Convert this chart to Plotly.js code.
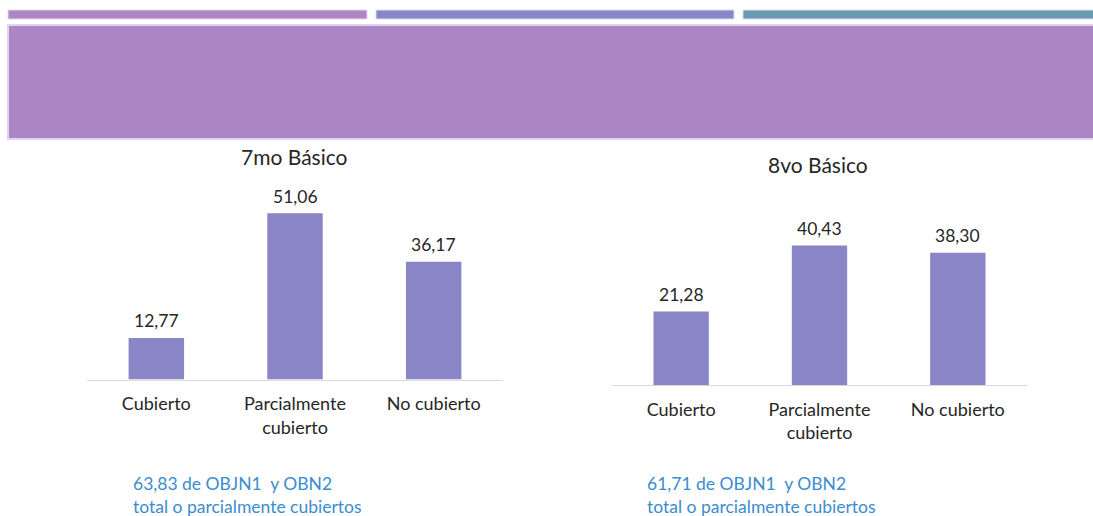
<!DOCTYPE html>
<html>
<head>
<meta charset="utf-8">
<script src="https://cdn.plot.ly/plotly-3.0.1.min.js"></script>
<style>html,body{margin:0;padding:0;background:#fff;}#chart{width:1093px;height:516px;}</style>
</head>
<body>
<div id="chart"></div>
<script>
const categories = ['Cubierto', 'Parcialmente<br>cubierto', 'No cubierto'];
const values7mo = [12.77, 51.06, 36.17];
const values8vo = [21.28, 40.43, 38.30];
const chartTitles = ['7mo Básico', '8vo Básico'];
const notes = [
  '63,83 de OBJN1  y OBN2<br>total o parcialmente cubiertos',
  '61,71 de OBJN1  y OBN2<br>total o parcialmente cubiertos'
];

const W = 1093, H = 516;
const px = x => x / W;
const py = y => 1 - y / H;
const FONT = 'Lato, "Open Sans", sans-serif';
const barColor = '#8985c6';
const textColor = '#262626';

const traces = [
  {type: 'bar', x: categories, y: values7mo, xaxis: 'x', yaxis: 'y', width: 0.4,
   marker: {color: barColor}, hoverinfo: 'skip', showlegend: false},
  {type: 'bar', x: categories, y: values8vo, xaxis: 'x2', yaxis: 'y2', width: 0.4,
   marker: {color: barColor}, hoverinfo: 'skip', showlegend: false}
];

const fmt = v => v.toFixed(2).replace('.', ',');
const annotations = [];
[[values7mo, 'x', 'y'], [values8vo, 'x2', 'y2']].forEach(([vals, xr, yr]) => {
  vals.forEach((v, i) => annotations.push({
    x: categories[i], y: v, xref: xr, yref: yr, text: fmt(v), showarrow: false,
    yanchor: 'middle', yshift: 17, font: {family: FONT, size: 17.5, color: textColor}
  }));
});
annotations.push({x: px(294), y: py(156), xref: 'paper', yref: 'paper', text: chartTitles[0],
  showarrow: false, xanchor: 'center', yanchor: 'middle', font: {family: FONT, size: 21, color: textColor}});
annotations.push({x: px(818), y: py(164), xref: 'paper', yref: 'paper', text: chartTitles[1],
  showarrow: false, xanchor: 'center', yanchor: 'middle', font: {family: FONT, size: 21, color: textColor}});
annotations.push({x: px(131), y: py(495), xref: 'paper', yref: 'paper', text: notes[0], align: 'left',
  showarrow: false, xanchor: 'left', yanchor: 'middle', font: {family: FONT, size: 17.5, color: '#3a8dcf'}});
annotations.push({x: px(645), y: py(495), xref: 'paper', yref: 'paper', text: notes[1], align: 'left',
  showarrow: false, xanchor: 'left', yanchor: 'middle', font: {family: FONT, size: 17.5, color: '#3a8dcf'}});

const xaxisBase = {showline: true, linecolor: '#d9d9d9', linewidth: 1, ticks: '', showgrid: false,
  zeroline: false, fixedrange: true, ticklabelstandoff: 8,
  tickfont: {family: FONT, size: 18, color: textColor}};
const yaxisBase = {visible: false, showgrid: false, zeroline: false, fixedrange: true};

const shapes = [
  {type: 'rect', xref: 'paper', yref: 'paper', x0: px(8), x1: px(367), y0: py(19), y1: py(10),
   fillcolor: '#ae86c4', line: {color: '#e3d6ec', width: 1}},
  {type: 'rect', xref: 'paper', yref: 'paper', x0: px(376), x1: px(734), y0: py(19), y1: py(10),
   fillcolor: '#8786c8', line: {color: '#dcdcf0', width: 1}},
  {type: 'rect', xref: 'paper', yref: 'paper', x0: px(743), x1: px(1094), y0: py(19), y1: py(10),
   fillcolor: '#6899b0', line: {color: '#d6e4ea', width: 1}},
  {type: 'rect', xref: 'paper', yref: 'paper', x0: px(8), x1: px(1095), y0: py(139), y1: py(25),
   fillcolor: '#ad86c5', line: {color: '#e2d4ea', width: 2}}
];

const layout = {
  width: W, height: H, margin: {l: 0, r: 0, t: 0, b: 0},
  paper_bgcolor: '#ffffff', plot_bgcolor: 'rgba(0,0,0,0)',
  font: {family: FONT, color: textColor},
  showlegend: false,
  xaxis: Object.assign({}, xaxisBase, {domain: [px(87), px(503)], anchor: 'y', range: [-0.5, 2.5]}),
  yaxis: Object.assign({}, yaxisBase, {domain: [py(379.5), py(379.5 - 60 * 3.255)], anchor: 'x', range: [0, 60]}),
  xaxis2: Object.assign({}, xaxisBase, {domain: [px(612), px(1027)], anchor: 'y2', range: [-0.5, 2.5]}),
  yaxis2: Object.assign({}, yaxisBase, {domain: [py(385), py(385 - 60 * 3.45)], anchor: 'x2', range: [0, 60]}),
  annotations: annotations,
  shapes: shapes
};

Plotly.newPlot('chart', traces, layout, {displayModeBar: false, staticPlot: true});
</script>
</body>
</html>
